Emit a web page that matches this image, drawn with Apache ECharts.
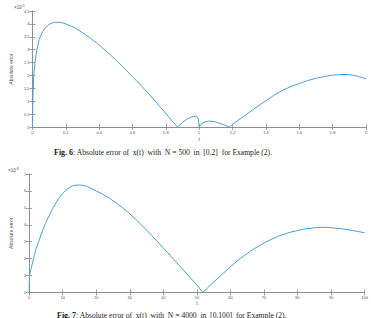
<!DOCTYPE html>
<html>
<head>
<meta charset="utf-8">
<script src="https://cdn.jsdelivr.net/npm/echarts@6/dist/echarts.min.js"></script>
<style>
html, body { margin: 0; padding: 0; background: #fff; }
#chart { width: 371px; height: 318px; }
</style>
</head>
<body>
<div id="chart"></div>
<script>
// Fig. 6 : N = 500 on [0,2], values in units of 1e-5
var t6 = [0, 0.003, 0.008, 0.015, 0.025, 0.04, 0.06, 0.08, 0.1, 0.12, 0.14, 0.16, 0.18, 0.2,
  0.25, 0.3, 0.35, 0.4, 0.45, 0.5, 0.55, 0.6, 0.65, 0.7, 0.75, 0.8, 0.84, 0.87,
  0.9, 0.93, 0.96, 0.98, 0.99, 0.995, 1.0, 1.01, 1.03, 1.06, 1.09, 1.12, 1.15, 1.18,
  1.22, 1.28, 1.34, 1.4, 1.45, 1.5, 1.55, 1.6, 1.65, 1.7, 1.75, 1.8, 1.85, 1.9, 1.95, 2.0];
var err6 = [0, 1.2, 2.0, 2.5, 2.95, 3.4, 3.7, 3.87, 3.98, 4.04, 4.06, 4.06, 4.04, 4.0,
  3.86, 3.66, 3.43, 3.18, 2.9, 2.6, 2.28, 1.95, 1.62, 1.27, 0.9, 0.52, 0.22, 0,
  0.18, 0.32, 0.41, 0.42, 0.38, 0.3, 0, 0.1, 0.19, 0.23, 0.21, 0.15, 0.08, 0,
  0.2, 0.47, 0.76, 1.02, 1.24, 1.42, 1.57, 1.69, 1.8, 1.89, 1.96, 2.01, 2.04, 2.03, 1.97, 1.87];

// Fig. 7 : N = 4000 on [0,100], values in units of 1e-8
var t7 = [0, 0.1, 0.3, 0.7, 1.3, 2, 3, 4, 5, 6, 7, 8, 9, 10, 11, 12, 13, 14, 15, 16, 17, 18,
  20, 22, 24, 26, 28, 30, 32, 34, 36, 38, 40, 42, 44, 46, 48, 50, 51.8,
  53, 55, 57, 60, 63, 66, 70, 74, 78, 82, 86, 88, 90, 94, 97, 100];
var err7 = [0, 0.9, 1.2, 1.5, 2.0, 2.55, 3.1, 3.65, 4.15, 4.55, 4.95, 5.3, 5.6, 5.85, 6.05, 6.2, 6.3, 6.34, 6.35, 6.33, 6.28, 6.2,
  6.0, 5.8, 5.56, 5.28, 4.98, 4.65, 4.28, 3.89, 3.48, 3.06, 2.63, 2.2, 1.76, 1.32, 0.88, 0.44, 0,
  0.24, 0.62, 0.98, 1.52, 2.02, 2.45, 2.93, 3.31, 3.57, 3.75, 3.84, 3.85, 3.83, 3.74, 3.64, 3.53];

var lineColor = '#4d9fd3';
var axisColor = '#8a8a8a';
var labelColor = '#555';

function pairs(xs, ys) {
  return xs.map(function (x, i) { return [x, ys[i]]; });
}

function mainX(grid, min, max, step, gap) {
  return {
    type: 'value', gridIndex: grid, position: 'bottom', min: min, max: max, interval: step,
    name: 't', nameLocation: 'middle', nameGap: gap,
    nameTextStyle: { fontSize: 5, color: labelColor, fontFamily: 'Liberation Sans' },
    axisLine: { onZero: false, lineStyle: { color: axisColor, width: 0.8 } },
    axisTick: { inside: true, length: 3, lineStyle: { color: axisColor, width: 0.8 } },
    axisLabel: { fontSize: 4, margin: 3, color: labelColor, fontFamily: 'Liberation Sans' },
    splitLine: { show: false }
  };
}
function sideX(grid, min, max, step) {
  return {
    type: 'value', gridIndex: grid, position: 'top', min: min, max: max, interval: step,
    axisLine: { lineStyle: { color: axisColor, width: 0.8 } },
    axisTick: { inside: true, length: 3, lineStyle: { color: axisColor, width: 0.8 } },
    axisLabel: { show: false }, splitLine: { show: false }
  };
}
function mainY(grid, min, max, step, gap) {
  return {
    type: 'value', gridIndex: grid, position: 'left', min: min, max: max, interval: step,
    name: 'Absolute error', nameLocation: 'middle', nameGap: gap,
    nameTextStyle: { fontSize: 5, color: labelColor, fontFamily: 'Liberation Sans' },
    axisLine: { show: true, onZero: false, lineStyle: { color: axisColor, width: 0.8 } },
    axisTick: { show: true, inside: true, length: 3, lineStyle: { color: axisColor, width: 0.8 } },
    axisLabel: { fontSize: 4, margin: 3, color: labelColor, fontFamily: 'Liberation Sans' },
    splitLine: { show: false }
  };
}
function sideY(grid, min, max, step) {
  return {
    type: 'value', gridIndex: grid, position: 'right', min: min, max: max, interval: step,
    axisLine: { show: true, lineStyle: { color: axisColor, width: 0.8 } },
    axisTick: { show: true, inside: true, length: 3, lineStyle: { color: axisColor, width: 0.8 } },
    axisLabel: { show: false }, splitLine: { show: false }
  };
}

var chart = echarts.init(document.getElementById('chart'), null, { renderer: 'svg' });

var captionStyle = {
  fontSize: 7.6, color: '#222', fontFamily: 'Liberation Serif', fontWeight: 'normal',
  rich: {
    b: { fontSize: 8, fontWeight: 'bold', color: '#222', fontFamily: 'Liberation Serif' }
  }
};

var expStyle = {
  fontSize: 4.5, fill: labelColor, fontFamily: 'Liberation Sans',
  rich: { s: { fontSize: 3.5, fill: labelColor, verticalAlign: 'top', padding: [0, 0, 3, 0] } }
};

chart.setOption({
  backgroundColor: '#fff',
  animation: false,
  title: [
    {
      text: '{b|Fig. 6}: Absolute error of  x(t)  with  N = 500  in  [0,2]  for Example (2).',
      left: 49, top: 143, textStyle: captionStyle
    },
    {
      text: '{b|Fig. 7}: Absolute error of  x(t)  with  N = 4000  in  [0,100]  for Example (2).',
      left: 52, top: 306, textStyle: captionStyle
    }
  ],
  graphic: [
    { type: 'text', left: 14, top: 4, style: Object.assign({ text: '×10{s|-5}' }, expStyle) },
    { type: 'text', left: 8, top: 167, style: Object.assign({ text: '×10{s|-8}' }, expStyle) }
  ],
  grid: [
    { left: 13, top: 11, width: 353, height: 116 },
    { left: 7, top: 174, width: 363, height: 118.5 }
  ],
  xAxis: [
    mainX(0, 0, 2, 0.2, 9),
    sideX(0, 0, 2, 0.2),
    mainX(1, 0, 100, 10, 7),
    sideX(1, 0, 100, 10)
  ],
  yAxis: [
    mainY(0, 0, 4.5, 0.5, 7),
    sideY(0, 0, 4.5, 0.5),
    mainY(1, 0, 7, 1, 5),
    sideY(1, 0, 7, 1)
  ],
  series: [
    {
      type: 'line', xAxisIndex: 0, yAxisIndex: 0, showSymbol: false,
      lineStyle: { color: lineColor, width: 1 }, data: pairs(t6, err6)
    },
    {
      type: 'line', xAxisIndex: 2, yAxisIndex: 2, showSymbol: false,
      lineStyle: { color: lineColor, width: 1 }, data: pairs(t7, err7)
    }
  ]
});
</script>
</body>
</html>
